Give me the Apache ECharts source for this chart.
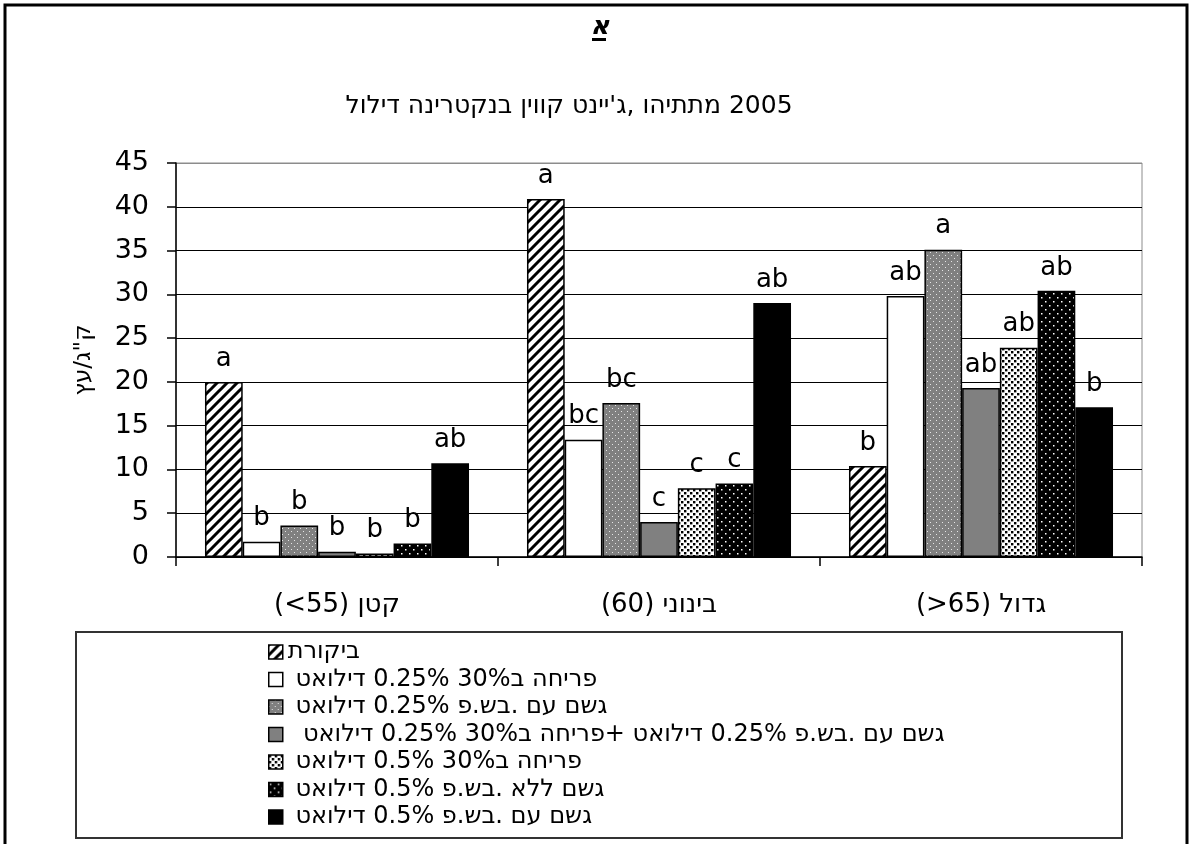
<!doctype html>
<html>
<head>
<meta charset="utf-8">
<title>דילול בנקטרינה קווין ג'יינט, מתתיהו 2005</title>
<script src="https://cdn.jsdelivr.net/npm/echarts@6/dist/echarts.min.js"></script>
<style>
html, body { margin: 0; padding: 0; background: #fff; }
#chart { width: 1192px; height: 844px; direction: ltr; }
</style>
</head>
<body>
<div id="chart"></div>
<script>
var categories = ['(<55) קטן', '(60) בינוני', '(>65) גדול'];
var seriesNames = [
	'ביקורת',
	' דילואט 0.25% ב30% פריחה',
	' דילואט 0.25% בש.פ. עם גשם',
	'  דילואט 0.25% ב30% פריחה+ דילואט 0.25% בש.פ. עם גשם',
	' דילואט 0.5% ב30% פריחה',
	' דילואט 0.5% בש.פ. ללא גשם',
	' דילואט 0.5% בש.פ. עם גשם'
];
var control = [20.0, 40.9, 10.4];
var dil025Bloom = [1.75, 13.4, 29.8];
var dil025Rain = [3.6, 17.6, 35.1];
var dil025Both = [0.6, 4.0, 19.3];
var dil05Bloom = [0.4, 7.85, 23.9];
var dil05NoRain = [1.55, 8.4, 30.4];
var dil05Rain = [10.7, 29.0, 17.1];
var seriesValues = [control, dil025Bloom, dil025Rain, dil025Both, dil05Bloom, dil05NoRain, dil05Rain];
var letters = [
	['a', 'a', 'b'],
	['b', 'bc', 'ab'],
	['b', 'bc', 'a'],
	['b', 'c', 'ab'],
	['b', 'c', 'ab'],
	['b', 'c', 'ab'],
	['ab', 'ab', 'b']
];
var yTicks = { min: 0, max: 45, interval: 5 };

var FONT = '"DejaVu Sans", "Liberation Sans", sans-serif';
var LRM = '\u200E';

// the original shows the hebrew words left-to-right, each word read right-to-left
function wordOrder(s) {
	return LRM + s.split(' ').join(' ' + LRM);
}

function makeTile(size, bg, draw) {
	var c = document.createElement('canvas');
	c.width = size;
	c.height = size;
	var ctx = c.getContext('2d');
	ctx.fillStyle = bg;
	ctx.fillRect(0, 0, size, size);
	draw(ctx);
	return { image: c, repeat: 'repeat' };
}

var hatch = makeTile(10, '#fff', function(ctx) {
	ctx.strokeStyle = '#000';
	ctx.lineWidth = 3;
	ctx.beginPath();
	ctx.moveTo(-5, 5); ctx.lineTo(5, -5);
	ctx.moveTo(0, 10); ctx.lineTo(10, 0);
	ctx.moveTo(5, 15); ctx.lineTo(15, 5);
	ctx.stroke();
});
var grayDots = makeTile(6, '#808080', function(ctx) {
	ctx.fillStyle = '#e6e6e6';
	ctx.fillRect(0, 0, 1, 1);
	ctx.fillRect(3, 3, 1, 1);
});
var checker = makeTile(6, '#fff', function(ctx) {
	ctx.fillStyle = '#000';
	ctx.fillRect(0, 0, 2.4, 2.4);
	ctx.fillRect(3, 3, 2.4, 2.4);
});
var blackDots = makeTile(8, '#000', function(ctx) {
	ctx.fillStyle = '#fff';
	ctx.fillRect(1, 1, 1.5, 1.5);
	ctx.fillRect(5, 5, 1.5, 1.5);
});
var fills = [hatch, '#fff', grayDots, '#808080', checker, blackDots, '#000'];

var series = seriesValues.map(function(vals, i) {
	return {
		name: wordOrder(seriesNames[i]),
		type: 'bar',
		barGap: '0%',
		barCategoryGap: '18%',
		itemStyle: {
			color: fills[i],
			borderColor: '#000',
			borderWidth: 1.5
		},
		label: {
			show: true,
			position: 'top',
			distance: 10,
			color: '#000',
			fontSize: 26,
			fontFamily: FONT,
			formatter: function(p) {
				return letters[i][p.dataIndex];
			}
		},
		data: vals
	};
});

var chart = echarts.init(document.getElementById('chart'));
chart.setOption({
	animation: false,
	backgroundColor: '#fff',
	title: {
		text: wordOrder("דילול בנקטרינה קווין ג'יינט, מתתיהו 2005"),
		left: 564,
		top: 89,
		textAlign: 'center',
		textStyle: {
			color: '#000',
			fontSize: 25,
			fontWeight: 'normal',
			fontFamily: FONT
		}
	},
	grid: {
		left: 176,
		right: 50,
		top: 163,
		bottom: 287,
		show: true,
		borderColor: '#8c8c8c',
		borderWidth: 1
	},
	legend: {
		orient: 'vertical',
		left: 268,
		top: 640,
		padding: 0,
		icon: 'rect',
		itemWidth: 14,
		itemHeight: 14,
		itemGap: 3.5,
		itemStyle: {
			borderColor: '#000',
			borderWidth: 1.5
		},
		textStyle: {
			color: '#000',
			fontSize: 24,
			lineHeight: 24,
			fontFamily: FONT
		}
	},
	xAxis: {
		type: 'category',
		data: categories.map(function(c) { return LRM + c; }),
		axisLine: { lineStyle: { color: '#000', width: 1.5 } },
		axisTick: { show: true, length: 9, lineStyle: { color: '#000', width: 1.5 } },
		axisLabel: {
			color: '#000',
			fontSize: 26,
			margin: 35,
			fontFamily: FONT
		}
	},
	yAxis: {
		type: 'value',
		min: yTicks.min,
		max: yTicks.max,
		interval: yTicks.interval,
		name: 'ק"ג/עץ',
		nameLocation: 'middle',
		nameGap: 80,
		nameTextStyle: { color: '#000', fontSize: 23, fontFamily: FONT },
		axisLine: { show: true, lineStyle: { color: '#000', width: 1.5 } },
		axisTick: { show: true, length: 9, lineStyle: { color: '#000', width: 1.5 } },
		axisLabel: {
			color: '#000',
			fontSize: 27,
			margin: 27,
			fontFamily: FONT
		},
		splitLine: {
			show: true,
			lineStyle: {
				color: ['#000', '#000', '#000', '#000', '#000', '#000', '#000', '#000', '#000', '#8c8c8c'],
				width: 1.2
			}
		}
	},
	graphic: [
		{
			type: 'rect',
			shape: { x: 5, y: 5, width: 1182, height: 860 },
			style: { fill: 'none', stroke: '#000', lineWidth: 3 },
			silent: true
		},
		{
			type: 'rect',
			shape: { x: 76, y: 632, width: 1046, height: 206 },
			style: { fill: 'none', stroke: '#333', lineWidth: 2 },
			silent: true
		},
		{
			type: 'text',
			x: 600,
			y: 27,
			style: {
				text: 'א',
				fill: '#000',
				font: 'italic bold 26px ' + FONT,
				textAlign: 'center',
				textVerticalAlign: 'middle'
			},
			silent: true
		},
		{
			type: 'rect',
			shape: { x: 592, y: 38, width: 14, height: 3 },
			style: { fill: '#000' },
			silent: true
		}
	],
	series: series
});
</script>
</body>
</html>
